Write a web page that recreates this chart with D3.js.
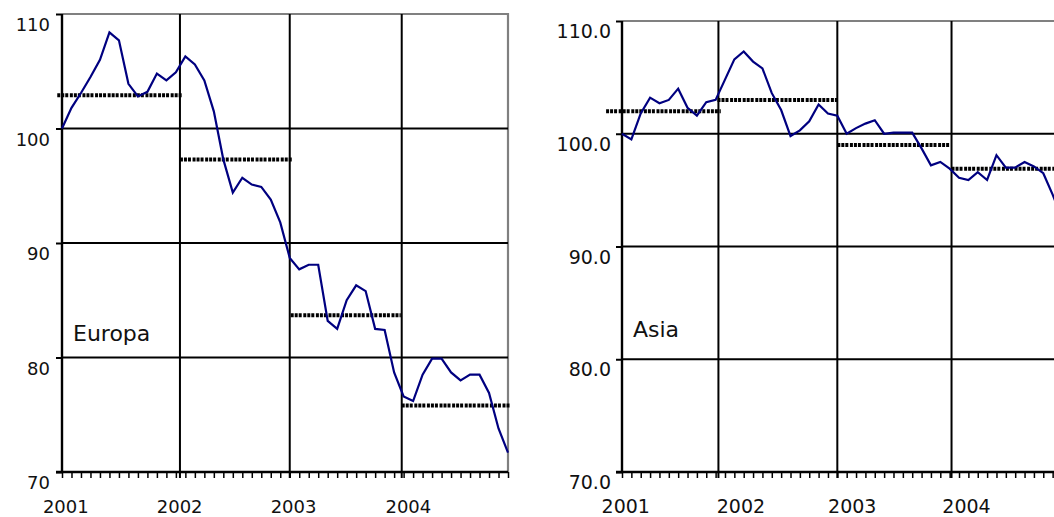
<!DOCTYPE html>
<html>
<head>
<meta charset="utf-8">
<script src="https://cdn.jsdelivr.net/npm/d3@7"></script>
<style>
  html, body { margin: 0; padding: 0; background: #fff; }
  svg { display: block; }
  text { font-family: "DejaVu Sans", Verdana, sans-serif; fill: #111; }
</style>
</head>
<body>
<svg id="chart" width="1054" height="517"></svg>
<script>
// ---------------- DATA ----------------
const years = ["2001", "2002", "2003", "2004"];
const months = years.flatMap(y => d3.range(1, 13).map(m => `${y}-${String(m).padStart(2, "0")}`));

const europaValues = [
  100.0, 101.8, 103.1, 104.5, 106.0, 108.4, 107.7, 103.9, 102.8, 103.2, 104.8, 104.2,
  104.9, 106.3, 105.6, 104.2, 101.5, 97.3, 94.4, 95.7, 95.1, 94.9, 93.8, 91.8,
  88.7, 87.7, 88.1, 88.1, 83.2, 82.5, 85.0, 86.3, 85.8, 82.5, 82.4, 78.7,
  76.6, 76.2, 78.5, 79.9, 79.9, 78.7, 78.0, 78.5, 78.5, 76.9, 73.8, 71.7
];
const europaYearAvg = [102.9, 97.3, 83.7, 75.8];

const asiaValues = [
  100.0, 99.5, 101.8, 103.2, 102.7, 103.0, 104.0, 102.3, 101.6, 102.8, 103.0, 104.8,
  106.6, 107.3, 106.4, 105.8, 103.6, 102.1, 99.8, 100.3, 101.1, 102.6, 101.8, 101.6,
  100.0, 100.5, 100.9, 101.2, 100.0, 100.1, 100.1, 100.1, 98.7, 97.2, 97.5, 96.9,
  96.1, 95.9, 96.6, 95.9, 98.1, 97.0, 97.0, 97.5, 97.1, 96.5, 94.6, 92.5
];
const asiaYearAvg = [102.0, 103.0, 99.0, 96.9];

const yTicks = [70, 80, 90, 100, 110];

// ---------------- LAYOUT ----------------
const charts = [
  {
    name: "Europa", values: europaValues, avg: europaYearAvg, fmt: d3.format("d"),
    x0: 62, x1: 508, right: 508, top: 14, bottom: 472, font: 18, labelEnd: 50,
    grid: [12.43, 24.0, 35.8],
    avgSpan: [[-0.5, 12.75], [12.43, 24.3], [24.1, 35.7], [35.8, 47.2]],
    yearLabelAt: [0.4, 12.4, 24.4, 36.5],
    titleX: 73, titleY: 341
  },
  {
    name: "Asia", values: asiaValues, avg: asiaYearAvg, fmt: d3.format(".1f"),
    x0: 622, x1: 1062, right: 1062, top: 21, bottom: 472, font: 19, labelEnd: 611,
    grid: [10.3, 23.0, 35.2],
    avgSpan: [[-1.7, 10.55], [10.2, 23.1], [23.0, 35.1], [35.2, 48]],
    yearLabelAt: [0.4, 12.7, 24.6, 36.8],
    titleX: 633, titleY: 337
  }
];

const svg = d3.select("#chart");

charts.forEach(c => {
  const g = svg.append("g");
  const x = d3.scaleLinear().domain([0, months.length - 1]).range([c.x0, c.x1]);
  const y = d3.scaleLinear().domain([70, 110]).range([c.bottom, c.top]);

  // frame top/right (gray)
  g.append("path")
    .attr("d", `M${c.x0},${c.top}H${c.right}V${c.bottom}`)
    .attr("fill", "none").attr("stroke", "#808080").attr("stroke-width", 2.2);

  // horizontal gridlines
  g.selectAll(".hg").data(yTicks.filter(t => t > 70 && t < 110)).join("line")
    .attr("x1", c.x0).attr("x2", c.right)
    .attr("y1", d => y(d)).attr("y2", d => y(d))
    .attr("stroke", "#000").attr("stroke-width", 2);

  // vertical year gridlines
  g.selectAll(".vg").data(c.grid).join("line")
    .attr("x1", d => x(d)).attr("x2", d => x(d))
    .attr("y1", c.top).attr("y2", c.bottom + 6)
    .attr("stroke", "#000").attr("stroke-width", 2);

  // x axis with monthly minor ticks
  const xAxis = d3.axisBottom(x).tickValues(d3.range(months.length)).tickSize(6).tickFormat("");
  const xa = g.append("g").attr("transform", `translate(0,${c.bottom})`).call(xAxis);
  xa.select(".domain").attr("stroke", "#000").attr("stroke-width", 2.4)
    .attr("d", `M${c.x0 - 6},0H${c.right}`);
  xa.selectAll(".tick line").attr("stroke", "#000").attr("stroke-width", 1.5);

  // y axis
  const yAxis = d3.axisLeft(y).tickValues(yTicks).tickSize(6).tickFormat("");
  const ya = g.append("g").attr("transform", `translate(${c.x0},0)`).call(yAxis);
  ya.select(".domain").attr("stroke", "#000").attr("stroke-width", 2.4)
    .attr("d", `M0,${c.top}V${c.bottom}`);
  ya.selectAll(".tick line").attr("stroke", "#000").attr("stroke-width", 2);

  // y labels
  g.selectAll(".yl").data(yTicks).join("text")
    .attr("x", c.labelEnd).attr("y", d => y(d) + 17)
    .attr("text-anchor", "end").attr("font-size", c.font)
    .text(d => c.fmt(d));

  // year labels
  g.selectAll(".xl").data(years).join("text")
    .attr("x", (d, i) => x(c.yearLabelAt[i])).attr("y", 513)
    .attr("text-anchor", "middle").attr("font-size", c.font)
    .text(d => d);

  // yearly average dotted segments
  g.selectAll(".avg").data(c.avg).join("line")
    .attr("x1", (d, i) => x(c.avgSpan[i][0])).attr("x2", (d, i) => x(c.avgSpan[i][1]))
    .attr("y1", d => y(d)).attr("y2", d => y(d))
    .attr("stroke", "#000").attr("stroke-width", 4)
    .attr("stroke-dasharray", "3,1,3,1,3,1.6");

  // series line
  const line = d3.line().x((d, i) => x(i)).y(d => y(d));
  g.append("path").datum(c.values)
    .attr("d", line).attr("fill", "none")
    .attr("stroke", "#000080").attr("stroke-width", 2.2).attr("stroke-linejoin", "miter");

  // title
  g.append("text").attr("x", c.titleX).attr("y", c.titleY)
    .attr("font-size", 22).text(c.name);
});
</script>
</body>
</html>
